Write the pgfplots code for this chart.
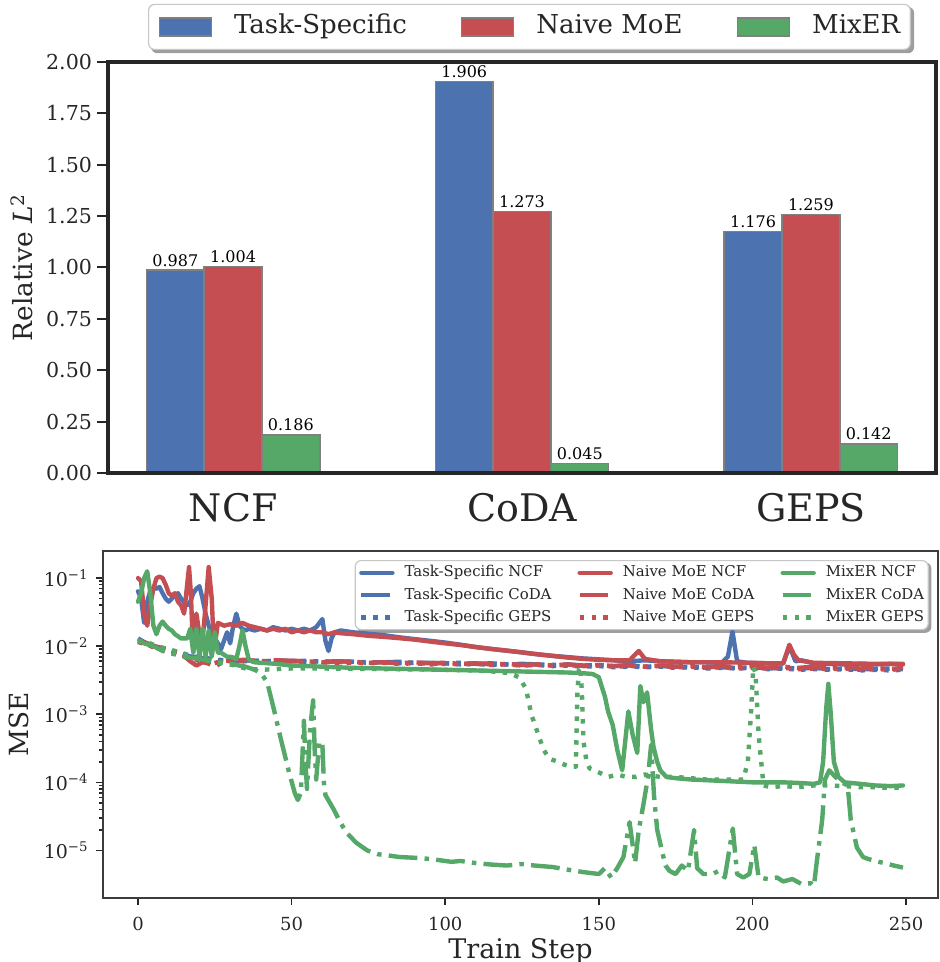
\documentclass[border=0pt]{standalone}
\usepackage{fontspec}
\setmainfont{DejaVu Serif}
\usepackage{pgfplots}
\pgfplotsset{compat=1.18}
\usetikzlibrary{backgrounds}
\definecolor{sbblue}{HTML}{4C72B0}
\definecolor{sbred}{HTML}{C44E52}
\definecolor{sbgreen}{HTML}{55A868}
\definecolor{txt}{HTML}{262626}
\tikzset{
  ncf/.style={line width=2.2pt, line cap=round, line join=round},
  coda/.style={line width=2.2pt, line join=round, dash pattern=on 14.4pt off 3.6pt on 2.25pt off 3.6pt},
  geps/.style={line width=2.2pt, line join=round, dash pattern=on 2.25pt off 3.7pt},
}
\newcommand{\barlab}{\pgfmathprintnumber[fixed,fixed zerofill,precision=3,assume math mode=true]{\pgfplotspointmeta}}
\begin{document}
\begin{tikzpicture}
\path[use as bounding box] (0,0) rectangle (469.5pt,481pt);
% ================= TOP: bar chart =================
\begin{axis}[
  at={(54pt,244.5pt)}, anchor=south west,
  scale only axis, width=414pt, height=205.5pt,
  xmin=-0.433, xmax=2.433, ymin=0, ymax=2,
  axis on top,
  axis line style={line width=1.6pt, color=txt},
  xtick={0,1,2}, xticklabels={NCF,CoDA,GEPS},
  x tick style={draw=none},
  xticklabel style={font=\fontsize{19}{22}\selectfont, text=txt, inner sep=0pt, anchor=north, yshift=-4.5pt},
  ytick={0,0.25,0.5,0.75,1,1.25,1.5,1.75,2},
  yticklabels={0.00,0.25,0.50,0.75,1.00,1.25,1.50,1.75,2.00},
  ytick pos=left, tick align=outside,
  y tick style={line width=1pt, color=txt},
  major tick length=5.3pt,
  yticklabel style={font=\fontsize{10.3}{12}\selectfont, text=txt, inner xsep=2.5pt},
  ylabel={Relative \textit{L}\textsuperscript{2}},
  ylabel style={at={(axis description cs:-0.104,0.5)}, anchor=center, font=\fontsize{13.2}{15}\selectfont, text=txt},
  legend style={name=tlg, at={(0,1)}, anchor=south west, xshift=20pt, yshift=6pt,
    legend columns=3, draw=black!22, line width=0.6pt, rounded corners=3pt, fill=white,
    font=\fontsize{13}{15}\selectfont, text=txt, inner xsep=5pt, inner ysep=2.5pt,
    nodes={inner xsep=0pt, inner ysep=2.5pt, text height=9.6pt, text depth=2.9pt},
    /tikz/every odd column/.append style={column sep=11pt},
    /tikz/every even column/.append style={column sep=27pt}},
  legend cell align=left,
  nodes near coords style={font=\fontsize{8}{9.6}\selectfont, text=black, anchor=south, inner sep=0pt, yshift=1.5pt},
]
\addplot[ybar, bar width=0.2, bar shift=0pt, fill=sbblue, draw=black!50, line width=0.75pt,
  nodes near coords=\barlab, forget plot]
  coordinates {(-0.2,0.987) (0.8,1.906) (1.8,1.176)};
\addplot[ybar, bar width=0.2, bar shift=0pt, fill=sbred, draw=black!50, line width=0.75pt,
  nodes near coords=\barlab, forget plot]
  coordinates {(0,1.004) (1,1.273) (2,1.259)};
\addplot[ybar, bar width=0.2, bar shift=0pt, fill=sbgreen, draw=black!50, line width=0.75pt,
  nodes near coords=\barlab, forget plot]
  coordinates {(0.2,0.186) (1.2,0.045) (2.2,0.142)};
\addlegendimage{legend image code/.code={\draw[sharp corners, fill=sbblue, draw=black!50, line width=0.75pt] (0pt,-4.5pt) rectangle (26pt,4.5pt);}}
\addlegendentry{Task-Specific}
\addlegendimage{legend image code/.code={\draw[sharp corners, fill=sbred, draw=black!50, line width=0.75pt] (0pt,-4.5pt) rectangle (26pt,4.5pt);}}
\addlegendentry{Naive MoE}
\addlegendimage{legend image code/.code={\draw[sharp corners, fill=sbgreen, draw=black!50, line width=0.75pt] (0pt,-4.5pt) rectangle (26pt,4.5pt);}}
\addlegendentry{MixER}
\end{axis}
% ================= BOTTOM: training curves =================
\begin{axis}[
  at={(51.5pt,32pt)}, anchor=south west,
  scale only axis, width=417.5pt, height=173.5pt,
  xmin=-11.4, xmax=260.4, ymode=log, ymin=2e-6, ymax=0.25,
  axis line style={line width=0.9pt, color=txt!90},
  tick align=outside, xtick pos=bottom, ytick pos=left,
  major tick length=3.5pt, minor tick length=2pt,
  tick style={line width=0.8pt, color=txt},
  xtick={0,50,100,150,200,250}, xticklabels={0,50,100,150,200,250},
  ytick={1e-5,1e-4,1e-3,1e-2,1e-1},
  yticklabels={10\textsuperscript{−5},10\textsuperscript{−4},10\textsuperscript{−3},10\textsuperscript{−2},10\textsuperscript{−1}},
  xticklabel style={font=\fontsize{9}{11}\selectfont, text=txt, inner ysep=6pt},
  yticklabel style={font=\fontsize{9.5}{11}\selectfont, text=txt, inner xsep=3.5pt},
  xlabel={Train Step},
  xlabel style={at={(axis description cs:0.5,-0.173)}, anchor=base, font=\fontsize{13.5}{16}\selectfont, text=txt},
  ylabel={MSE},
  ylabel style={at={(axis description cs:-0.101,0.5)}, anchor=center, font=\fontsize{13.2}{15}\selectfont, text=txt},
  legend style={name=blg, at={(0,1)}, anchor=north west, xshift=125.8pt, yshift=-4.5pt,
    legend columns=3, draw=black!22, line width=0.6pt, rounded corners=3pt, fill=white,
    font=\fontsize{7.45}{9}\selectfont, text=txt, inner xsep=2pt, inner ysep=0.6pt,
    nodes={inner xsep=0pt, inner ysep=2pt, text height=5.5pt, text depth=1.6pt},
    /tikz/every odd column/.append style={column sep=5pt},
    /tikz/every even column/.append style={column sep=13pt}},
  legend cell align=left,
  transpose legend,
  legend image code/.code={\draw[#1, sharp corners] (0pt,0pt) -- (15.5pt,0pt);},
]
% ---- Task-Specific NCF
\addplot[ncf, sbblue] coordinates {
(0,0.064) (1,0.05) (2,0.022) (3,0.045) (4,0.065) (5,0.072) (6,0.07) (7,0.074) (8,0.06) (9,0.05) (10,0.045)
(11,0.05) (12,0.056) (13,0.06) (14,0.05) (15,0.045) (16,0.04) (17,0.045) (18,0.06) (19,0.07) (20,0.076)
(21,0.05) (22,0.03) (23,0.02) (24,0.015) (25,0.013) (26,0.011) (27,0.009) (28,0.012) (29,0.016) (30,0.011)
(31,0.02) (32,0.03) (33,0.02) (34,0.018) (35,0.017) (36,0.018) (38,0.017) (40,0.018) (42,0.017) (44,0.019)
(46,0.018) (48,0.017) (50,0.018) (52,0.017) (54,0.018) (56,0.017) (58,0.019) (60,0.025) (61,0.012) (62,0.0085)
(63,0.013) (64,0.016) (66,0.017) (70,0.016) (75,0.0152) (80,0.0145) (85,0.0135) (90,0.0127) (95,0.012) (100,0.0113)
(105,0.0105) (110,0.0097) (115,0.0091) (120,0.0086) (125,0.0081) (130,0.0076) (135,0.0072) (140,0.0069) (145,0.0066)
(150,0.0064) (155,0.0062) (160,0.006) (165,0.0062) (170,0.006) (175,0.0059) (180,0.0058) (185,0.0058) (190,0.0057)
(192,0.007) (193.5,0.0165) (195,0.006) (198,0.0057) (205,0.0056) (210,0.0056) (212,0.0098) (213,0.0078) (214,0.006)
(216,0.0062) (220,0.0056) (225,0.0055) (230,0.0054) (235,0.0055) (240,0.0054) (245,0.0055) (249,0.0054)};
% ---- Task-Specific CoDA
\addplot[coda, sbblue] coordinates {
(0,0.013) (2,0.0115) (4,0.0105) (6,0.0098) (8,0.009) (10,0.0087) (12,0.0082) (14,0.0078) (16,0.0072) (18,0.007)
(20,0.0068) (22,0.0066) (24,0.0063) (26,0.0062) (28,0.0061) (30,0.006) (34,0.0062) (38,0.0061) (42,0.006) (46,0.0062)
(50,0.006) (55,0.0061) (60,0.0059) (65,0.006) (70,0.0059) (75,0.0058) (80,0.0058) (85,0.0059) (90,0.0057) (95,0.0057)
(100,0.0056) (105,0.0057) (110,0.0055) (115,0.0056) (120,0.0054) (125,0.0055) (130,0.0054) (135,0.0053) (140,0.0054)
(145,0.0052) (150,0.0053) (155,0.0051) (160,0.0052) (165,0.005) (170,0.0051) (175,0.005) (180,0.0049) (185,0.005)
(190,0.0049) (195,0.0048) (200,0.0049) (205,0.0047) (210,0.0048) (215,0.0047) (220,0.0048) (225,0.0046) (230,0.0047)
(235,0.0046) (240,0.0046) (245,0.0047) (249,0.0046)};
% ---- Task-Specific GEPS
\addplot[geps, sbblue] coordinates {
(0,0.012) (3,0.0105) (6,0.0095) (10,0.0085) (14,0.0077) (18,0.0071) (22,0.0067) (26,0.0063) (30,0.0062) (35,0.006)
(40,0.0061) (45,0.006) (50,0.0061) (55,0.0059) (60,0.006) (65,0.0058) (70,0.0059) (75,0.0057) (80,0.0058) (85,0.0056)
(90,0.0057) (95,0.0055) (100,0.0056) (105,0.0054) (110,0.0055) (115,0.0053) (120,0.0054) (125,0.0052) (130,0.0053)
(135,0.0051) (140,0.0052) (145,0.005) (150,0.0051) (155,0.0049) (160,0.005) (165,0.0049) (170,0.005) (175,0.0048)
(180,0.0049) (185,0.0047) (190,0.0048) (195,0.0047) (200,0.0048) (205,0.0046) (210,0.0047) (215,0.0045) (220,0.0046)
(225,0.0045) (230,0.0046) (235,0.0044) (240,0.0045) (245,0.0044) (249,0.0045)};
% ---- Naive MoE NCF
\addplot[ncf, sbred] coordinates {
(0,0.1) (1,0.09) (2,0.03) (3,0.02) (4,0.04) (5,0.07) (6,0.1) (7,0.105) (8,0.1) (9,0.08) (10,0.06) (11,0.055)
(12,0.06) (13,0.045) (14,0.04) (15,0.03) (16,0.08) (16.6,0.145) (17.2,0.06) (17.8,0.012) (18.5,0.02) (19,0.03)
(20,0.015) (21,0.012) (22,0.04) (23,0.145) (24,0.05) (24.7,0.009) (25.5,0.015) (26,0.022) (28,0.02) (30,0.021)
(32,0.02) (34,0.022) (36,0.02) (38,0.019) (40,0.018) (42,0.017) (44,0.018) (46,0.017) (48,0.018) (50,0.016)
(52,0.017) (54,0.016) (56,0.017) (58,0.016) (60,0.016) (62,0.015) (64,0.016) (66,0.0155) (70,0.015) (75,0.0142)
(80,0.0137) (85,0.0131) (90,0.0125) (95,0.0117) (100,0.011) (105,0.0104) (110,0.0097) (115,0.0091) (120,0.0086)
(125,0.0081) (130,0.0076) (135,0.0072) (140,0.0068) (145,0.0065) (150,0.0063) (155,0.0062) (160,0.0062) (163,0.0085)
(165,0.0065) (170,0.006) (180,0.0058) (190,0.0058) (200,0.0057) (205,0.0056) (210,0.0056) (212,0.0105) (213.5,0.0075)
(215,0.0062) (220,0.0057) (230,0.0056) (240,0.0055) (249,0.0055)};
% ---- Naive MoE CoDA
\addplot[coda, sbred] coordinates {
(0,0.012) (3,0.011) (6,0.0098) (10,0.009) (14,0.0078) (17,0.006) (19,0.0052) (21,0.0058) (24,0.0055) (27,0.006)
(30,0.0062) (35,0.0063) (40,0.006) (45,0.0062) (50,0.0061) (55,0.006) (60,0.0058) (65,0.006) (70,0.0059) (75,0.0057)
(80,0.0058) (85,0.0056) (90,0.0058) (95,0.0056) (100,0.0057) (105,0.0055) (110,0.0056) (115,0.0054) (120,0.0055)
(125,0.0053) (130,0.0054) (135,0.0052) (140,0.0054) (145,0.0051) (150,0.0053) (155,0.0051) (160,0.0053) (165,0.005)
(170,0.0052) (175,0.005) (180,0.0052) (185,0.0049) (190,0.0051) (195,0.0049) (200,0.0051) (205,0.0048) (210,0.005)
(215,0.0048) (220,0.005) (225,0.0047) (230,0.0049) (235,0.0047) (240,0.0048) (245,0.0046) (249,0.0048)};
% ---- Naive MoE GEPS
\addplot[geps, sbred] coordinates {
(0,0.0115) (3,0.0105) (6,0.0093) (10,0.0083) (14,0.0072) (18,0.0065) (22,0.0058) (25,0.005) (28,0.006) (32,0.0061)
(36,0.0059) (40,0.006) (45,0.0058) (50,0.0059) (55,0.0057) (60,0.0058) (65,0.0056) (70,0.0057) (75,0.0056) (80,0.0057)
(85,0.0055) (90,0.0056) (95,0.0054) (100,0.0055) (105,0.0054) (110,0.0055) (115,0.0053) (120,0.0054) (125,0.0052)
(130,0.0053) (135,0.0052) (140,0.0053) (145,0.0051) (150,0.0052) (155,0.005) (160,0.0051) (165,0.005) (170,0.0051)
(175,0.0049) (180,0.005) (185,0.0048) (190,0.0049) (195,0.0047) (200,0.0048) (205,0.0047) (210,0.0048) (215,0.0046)
(220,0.0047) (225,0.0046) (230,0.0047) (235,0.0045) (240,0.0046) (245,0.0045) (249,0.0046)};
% ---- MixER NCF
\addplot[ncf, sbgreen] coordinates {
(0,0.045) (1,0.06) (2,0.1) (3,0.126) (4,0.06) (5,0.02) (6,0.015) (7,0.02) (8,0.023) (9,0.02) (10,0.018) (11,0.017)
(12,0.015) (13,0.014) (14,0.013) (15,0.013) (16,0.013) (17,0.018) (18,0.008) (19,0.018) (20,0.007) (21,0.018)
(22,0.007) (23,0.017) (24,0.007) (25,0.016) (26,0.008) (27,0.008) (28,0.0075) (29,0.007) (30,0.007) (31,0.0068)
(32,0.0065) (33,0.01) (34,0.017) (35,0.01) (36,0.0065) (37,0.006) (38,0.0058) (40,0.0057) (45,0.0055) (50,0.0052)
(60,0.005) (70,0.0048) (80,0.0047) (90,0.0046) (100,0.0045) (110,0.0044) (120,0.0043) (130,0.0042) (140,0.0041)
(145,0.004) (148,0.0039) (150,0.0035) (151,0.0025) (152,0.0018) (153,0.0011) (154.5,0.0007) (156,0.0003)
(157.6,0.00015) (159.6,0.0011) (161,0.0005) (162.5,0.00027) (163.5,0.0026) (164.5,0.0015) (165.7,0.0021) (167,0.0006)
(167.8,0.00033) (169,0.0002) (170,0.00015) (172,0.00012) (175,0.000115) (180,0.00011) (190,0.000105) (200,0.0001)
(210,0.0001) (215,0.000098) (220,0.000095) (222,0.0001) (223,0.0002) (224,0.0012) (224.7,0.0028) (225.5,0.001)
(226.5,0.0002) (228,0.00012) (230,0.0001) (235,0.000095) (240,0.00009) (245,0.000088) (249,0.00009)};
% ---- MixER CoDA
\addplot[coda, sbgreen] coordinates {
(0,0.012) (2,0.011) (5,0.01) (8,0.0085) (10,0.008) (15,0.007) (20,0.0065) (25,0.006) (30,0.0055) (35,0.005)
(38,0.0045) (40,0.004) (42,0.003) (44,0.0013) (46.4,0.00045) (49,0.00015) (51,0.00007) (52,0.000055) (53,0.00007)
(54,0.0008) (54.5,0.0002) (55,0.00008) (56,0.0006) (57,0.0016) (57.5,0.0003) (58,0.00011) (59,0.0004) (60,0.00037)
(60.5,0.0001) (61,0.000065) (63.7,0.00004) (66,0.000025) (68,0.000018) (71,0.000013) (74.6,0.00001) (78,0.0000088)
(81,0.0000085) (85,0.000008) (90,0.0000078) (95,0.0000075) (98,0.0000072) (102,0.0000068) (105,0.000007) (110,0.0000065)
(115,0.0000062) (120,0.000006) (125,0.0000063) (129,0.000006) (135,0.0000057) (140,0.0000052) (145,0.0000048)
(150,0.0000045) (152,0.0000055) (154,0.000004) (156,0.0000055) (158,0.000008) (160,0.000026) (161.8,0.0000065)
(163,0.00002) (164.6,0.00005) (166,0.00012) (167,0.00035) (168,0.00006) (169,0.00002) (170.5,0.00001) (171.7,0.000006)
(173,0.000005) (175,0.0000045) (177,0.000006) (179,0.000005) (181,0.00002) (182,0.0000055) (184,0.0000045)
(187,0.0000045) (189,0.000005) (191,0.000004) (193.6,0.000021) (195,0.0000045) (197,0.000004) (199,0.0000045)
(200.6,0.000012) (202,0.000004) (205,0.0000038) (208,0.000004) (210,0.0000035) (213,0.0000038) (216,0.0000032)
(219,0.0000033) (220,0.000003) (221,0.0000072) (222.7,0.000028) (223.6,0.00011) (225,0.00015) (227,0.00012)
(229,0.0001) (231,0.00009) (232,0.000028) (234,0.000011) (236,0.000008) (237.6,0.0000075) (240,0.000007)
(243,0.0000065) (246,0.000006) (249,0.0000056)};
% ---- MixER GEPS
\addplot[geps, sbgreen] coordinates {
(0,0.012) (2,0.012) (5,0.0105) (8,0.0095) (10,0.009) (15,0.0078) (20,0.0065) (25,0.0058) (30,0.0054) (35,0.0047)
(40,0.0045) (50,0.0047) (60,0.0047) (80,0.0046) (100,0.0045) (110,0.0044) (117,0.0042) (121,0.004) (124,0.0035)
(126,0.0025) (127,0.0017) (128,0.001) (130,0.00055) (132,0.0003) (134,0.00022) (137,0.0002) (139,0.00018)
(141,0.00017) (142.5,0.00017) (143,0.002) (143.5,0.0045) (144,0.005) (144.5,0.002) (145,0.0004) (146,0.0002)
(147,0.00016) (150,0.00014) (153,0.00012) (156,0.00013) (159,0.00012) (162,0.00012) (165,0.00013) (170,0.00012)
(175,0.00012) (180,0.000115) (185,0.00011) (190,0.00011) (195,0.00011) (197,0.00011) (198.5,0.0002) (199.5,0.001)
(200.3,0.005) (201,0.004) (202,0.0005) (203.6,0.00009) (206,0.000085) (210,0.000088) (215,0.000085) (220,0.00009)
(225,0.00009) (230,0.000088) (235,0.000085) (240,0.000085) (245,0.000082) (249,0.000085)};
\legend{Task-Specific NCF,Task-Specific CoDA,Task-Specific GEPS,Naive MoE NCF,Naive MoE CoDA,Naive MoE GEPS,MixER NCF,MixER CoDA,MixER GEPS}
\end{axis}
\begin{scope}[on background layer]
\fill[black!38, rounded corners=3pt] ([shift={(1.6pt,-1.6pt)}]tlg.south west) rectangle ([shift={(1.6pt,-1.6pt)}]tlg.north east);
\fill[black!38, rounded corners=3pt] ([shift={(1.3pt,-1.3pt)}]blg.south west) rectangle ([shift={(1.3pt,-1.3pt)}]blg.north east);
\end{scope}
\end{tikzpicture}
\end{document}
